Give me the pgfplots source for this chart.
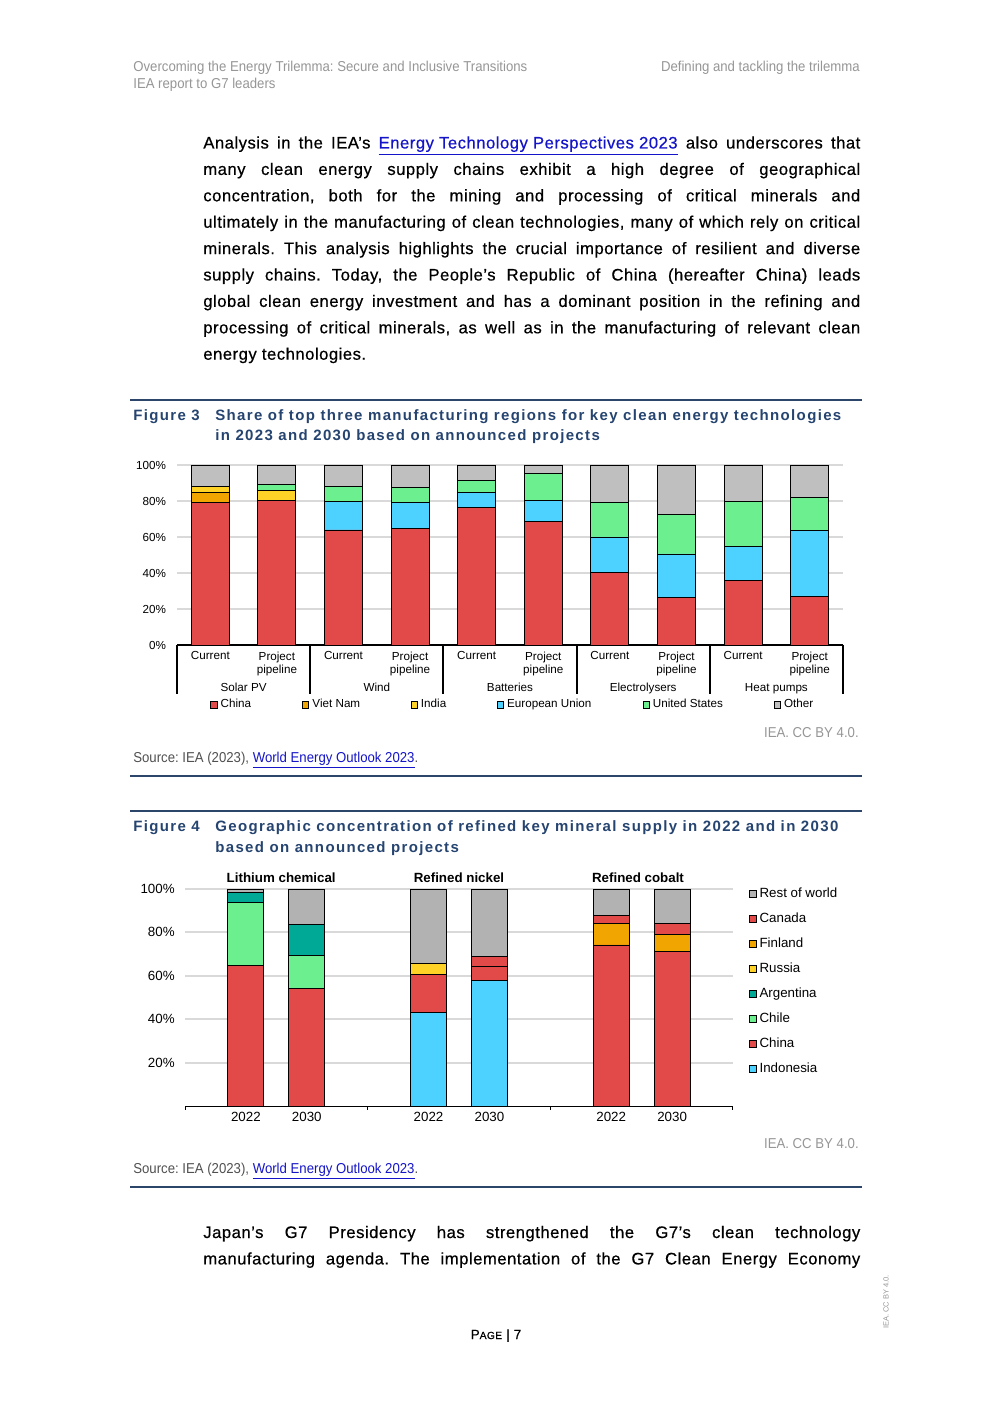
\documentclass[border=0pt]{standalone}
\usepackage{fontspec}
\setmainfont{Liberation Sans}
\newfontfamily\bodyfont[LetterSpace=3,FakeBold=0.5]{Liberation Sans}
\newfontfamily\titlefont[LetterSpace=9]{Liberation Sans}
\newfontfamily\narrowfont[FakeStretch=0.92]{Liberation Sans}
\usepackage{pgfplots}
\pgfplotsset{compat=1.18}
\usepackage{pgfplotstable}
\frenchspacing

\definecolor{cnred}{RGB}{226,74,74}
\definecolor{vnorange}{RGB}{240,165,0}
\definecolor{inyellow}{RGB}{255,210,40}
\definecolor{eucyan}{RGB}{77,210,255}
\definecolor{usgreen}{RGB}{108,240,143}
\definecolor{othgray}{RGB}{191,191,191}
\definecolor{rowgray}{RGB}{178,178,178}
\definecolor{argteal}{RGB}{0,168,150}
\definecolor{gridgray}{RGB}{217,217,217}
\definecolor{ieablue}{RGB}{38,68,112}
\definecolor{rulecol}{RGB}{44,70,105}
\definecolor{linkblue}{RGB}{20,20,200}
\definecolor{hdrgray}{RGB}{150,150,150}
\definecolor{srcgray}{RGB}{80,80,80}

% figure 3: share of top manufacturing regions (%)
\pgfplotstableread{
x China VietNam India EU US Other
0 79.0 5.6 3.3 0 0 12.1
1 80.1 0 5.6 0 3.3 11.0
2 63.9 0 0 15.7 8.3 12.1
3 64.5 0 0 14.5 8.4 12.6
4 76.2 0 0 8.4 6.7 8.7
5 68.4 0 0 11.7 15.1 4.8
6 40.5 0 0 19.5 19.0 21.0
7 26.6 0 0 24.0 21.7 27.7
8 36.1 0 0 18.4 25.1 20.4
9 27.1 0 0 36.3 18.4 18.2
}\techtable

% figure 4: refined mineral supply (%)
\pgfplotstableread{
x Indonesia China Chile Argentina Russia Finland Canada Rest
1 0 64.9 29.1 4.6 0 0 0 1.4
2 0 54.3 15.2 14.3 0 0 0 16.2
4 43.2 17.6 0 0 5.0 0 0 34.2
5 58.0 6.5 0 0 0 0 4.6 30.9
7 0 74.2 0 0 0 10.1 3.7 12.0
8 0 71.4 0 0 0 7.7 5.2 15.7
}\mineraltable

\newcommand\bodyline[2]{\node[anchor=base west, inner sep=0pt] at (203,#1) {\makebox[394.2pt][s]{#2}};}
\newcommand\figsev{\fontsize{7}{8.1}\selectfont}
\newcommand\figeig{\fontsize{8}{9}\selectfont}

\begin{document}
\begin{tikzpicture}
\begin{scope}[x=0.6pt,y=-0.6pt]
\path[fill=white] (0,0) rectangle (992,1403);

% running header
\begin{scope}[every node/.style={inner sep=0pt, text=hdrgray, font=\narrowfont\fontsize{8.6}{10}\selectfont}]
\node[anchor=base west] at (133,72) {Overcoming the Energy Trilemma: Secure and Inclusive Transitions};
\node[anchor=base west] at (133,89) {IEA report to G7 leaders};
\node[anchor=base east] at (860,72) {Defining and tackling the trilemma};
\end{scope}

% body paragraph
\begin{scope}[font=\bodyfont\fontsize{10}{11}\selectfont]
\bodyline{148.5}{Analysis in the IEA’s \textcolor{linkblue}{\underline{Energy Technology Perspectives 2023}} also underscores that}
\bodyline{174.9}{many clean energy supply chains exhibit a high degree of geographical}
\bodyline{201.3}{concentration, both for the mining and processing of critical minerals and}
\bodyline{227.7}{ultimately in the manufacturing of clean technologies, many of which rely on critical}
\bodyline{254.1}{minerals. This analysis highlights the crucial importance of resilient and diverse}
\bodyline{280.5}{supply chains. Today, the People’s Republic of China (hereafter China) leads}
\bodyline{306.9}{global clean energy investment and has a dominant position in the refining and}
\bodyline{333.3}{processing of critical minerals, as well as in the manufacturing of relevant clean}
\node[anchor=base west, inner sep=0pt] at (203,359.7) {energy technologies.};
\bodyline{1238}{Japan’s G7 Presidency has strengthened the G7’s clean technology}
\bodyline{1264.4}{manufacturing agenda. The implementation of the G7 Clean Energy Economy}
\end{scope}

% rules
\draw[rulecol, line width=1.2pt] (130,400) -- (862,400);
\draw[rulecol, line width=1.2pt] (130,776) -- (862,776);
\draw[rulecol, line width=1.2pt] (130,811) -- (862,811);
\draw[rulecol, line width=1.2pt] (130,1187) -- (862,1187);

% figure titles
\begin{scope}[every node/.style={anchor=base west, inner sep=0pt, text=ieablue, font=\titlefont\bfseries\fontsize{9}{11}\selectfont}]
\node at (133,420.5) {Figure 3};
\node at (215,420.5) {Share of top three manufacturing regions for key clean energy technologies};
\node at (215,440.5) {in 2023 and 2030 based on announced projects};
\node at (133,831) {Figure 4};
\node at (215,831) {Geographic concentration of refined key mineral supply in 2022 and in 2030};
\node at (215,852) {based on announced projects};
\end{scope}

% sources and credits
\begin{scope}[every node/.style={inner sep=0pt, font=\narrowfont\fontsize{8.6}{10}\selectfont}]
\node[anchor=base east, text=hdrgray] at (859,737) {IEA. CC BY 4.0.};
\node[anchor=base west, text=srcgray] at (133,762) {Source: IEA (2023), \textcolor{linkblue}{\underline{World Energy Outlook 2023}}.};
\node[anchor=base east, text=hdrgray] at (859,1148) {IEA. CC BY 4.0.};
\node[anchor=base west, text=srcgray] at (133,1173) {Source: IEA (2023), \textcolor{linkblue}{\underline{World Energy Outlook 2023}}.};
\end{scope}

% footer
\node[anchor=base, inner sep=0pt, font=\bodyfont\fontsize{8}{10}\selectfont] at (496,1339) {P{\fontsize{6.2}{8}\selectfont AGE} | 7};
\node[rotate=90, inner sep=0pt, text=hdrgray, font=\fontsize{4.5}{5}\selectfont] at (886,1302) {IEA. CC BY 4.0.};
\end{scope}

% ---------------- Figure 3 ----------------
\begin{axis}[
  at={(106.2pt,-387pt)}, anchor=south west,
  scale only axis, width=399.6pt, height=108pt,
  ybar stacked, bar width=22.8pt,
  xmin=-0.5, xmax=9.5, ymin=0, ymax=100,
  xtick={0,1,2,3,4,5,6,7,8,9},
  xticklabels={Current,{Project\\pipeline},Current,{Project\\pipeline},Current,{Project\\pipeline},Current,{Project\\pipeline},Current,{Project\\pipeline}},
  ytick={0,20,40,60,80,100},
  yticklabels={0\%,20\%,40\%,60\%,80\%,100\%},
  major tick length=0pt,
  axis line style={draw=none},
  ymajorgrids, grid style={gridgray, line width=1.2pt},
  tick label style={font=\figsev},
  xticklabel style={align=center, yshift=-0.4pt},
  yticklabel style={xshift=-3.1pt},
  clip=false,
  legend image code/.code={\draw[#1,/tikz/.cd,line width=0.4pt] (0pt,-1.9pt) rectangle (3.8pt,1.9pt);},
  legend columns=6,
  legend style={draw=none, fill=none, at={(0.0495,-0.333)}, anchor=west, inner sep=0pt,
    font=\figsev, column sep=0pt},
]
\addplot[fill=cnred, draw=black, line width=0.5pt] table[x=x, y=China] {\techtable};
\addlegendentry{\makebox[46.9pt][l]{China}}
\addplot[fill=vnorange, draw=black, line width=0.5pt] table[x=x, y=VietNam] {\techtable};
\addlegendentry{\makebox[56.9pt][l]{Viet Nam}}
\addplot[fill=inyellow, draw=black, line width=0.5pt] table[x=x, y=India] {\techtable};
\addlegendentry{\makebox[43.5pt][l]{India}}
\addplot[fill=eucyan, draw=black, line width=0.5pt] table[x=x, y=EU] {\techtable};
\addlegendentry{\makebox[79.3pt][l]{European Union}}
\addplot[fill=usgreen, draw=black, line width=0.5pt] table[x=x, y=US] {\techtable};
\addlegendentry{\makebox[70.5pt][l]{United States}}
\addplot[fill=othgray, draw=black, line width=0.5pt] table[x=x, y=Other] {\techtable};
\addlegendentry{Other}
\draw[black, line width=1.5pt] (rel axis cs:0,0) -- (rel axis cs:1,0);
\draw[black, line width=1.2pt] (axis cs:-0.5,0) -- ++(0pt,-29.4pt);
\draw[black, line width=1.2pt] (axis cs:1.5,0) -- ++(0pt,-29.4pt);
\draw[black, line width=1.2pt] (axis cs:3.5,0) -- ++(0pt,-29.4pt);
\draw[black, line width=1.2pt] (axis cs:5.5,0) -- ++(0pt,-29.4pt);
\draw[black, line width=1.2pt] (axis cs:7.5,0) -- ++(0pt,-29.4pt);
\draw[black, line width=1.2pt] (axis cs:9.5,0) -- ++(0pt,-29.4pt);
\node[anchor=base, inner sep=0pt, font=\figsev, yshift=-28pt] at (axis cs:0.5,0) {Solar PV};
\node[anchor=base, inner sep=0pt, font=\figsev, yshift=-28pt] at (axis cs:2.5,0) {Wind};
\node[anchor=base, inner sep=0pt, font=\figsev, yshift=-28pt] at (axis cs:4.5,0) {Batteries};
\node[anchor=base, inner sep=0pt, font=\figsev, yshift=-28pt] at (axis cs:6.5,0) {Electrolysers};
\node[anchor=base, inner sep=0pt, font=\figsev, yshift=-28pt] at (axis cs:8.5,0) {Heat pumps};
\end{axis}

% ---------------- Figure 4 ----------------
\begin{axis}[
  at={(111pt,-663.6pt)}, anchor=south west,
  scale only axis, width=328.8pt, height=130.2pt,
  ybar stacked, bar width=21.6pt,
  xmin=0, xmax=9, ymin=0, ymax=100,
  xtick={1,2,4,5,7,8},
  xticklabels={2022,2030,2022,2030,2022,2030},
  ytick={20,40,60,80,100},
  yticklabels={20\%,40\%,60\%,80\%,100\%},
  major tick length=0pt,
  axis line style={draw=none},
  ymajorgrids, grid style={gridgray, line width=1.2pt},
  tick label style={font=\figeig},
  yticklabel style={xshift=-2.7pt},
  clip=false,
  legend image code/.code={\draw[#1,/tikz/.cd,line width=0.4pt] (0pt,-1.9pt) rectangle (3.8pt,1.9pt);},
  reverse legend,
  legend cell align=left,
  legend style={draw=none, fill=none, at={(1.029,1.023)}, anchor=north west, inner sep=0pt,
    font=\figeig, row sep=3.7pt},
]
\addplot[fill=eucyan, draw=black, line width=0.5pt] table[x=x, y=Indonesia] {\mineraltable};
\addlegendentry{Indonesia}
\addplot[fill=cnred, draw=black, line width=0.5pt] table[x=x, y=China] {\mineraltable};
\addlegendentry{China}
\addplot[fill=usgreen, draw=black, line width=0.5pt] table[x=x, y=Chile] {\mineraltable};
\addlegendentry{Chile}
\addplot[fill=argteal, draw=black, line width=0.5pt] table[x=x, y=Argentina] {\mineraltable};
\addlegendentry{Argentina}
\addplot[fill=inyellow, draw=black, line width=0.5pt] table[x=x, y=Russia] {\mineraltable};
\addlegendentry{Russia}
\addplot[fill=vnorange, draw=black, line width=0.5pt] table[x=x, y=Finland] {\mineraltable};
\addlegendentry{Finland}
\addplot[fill=cnred, draw=black, line width=0.5pt] table[x=x, y=Canada] {\mineraltable};
\addlegendentry{Canada}
\addplot[fill=rowgray, draw=black, line width=0.5pt] table[x=x, y=Rest] {\mineraltable};
\addlegendentry{Rest of world}
\draw[black, line width=0.6pt] (rel axis cs:0,0) -- (rel axis cs:1,0);
\draw[black, line width=0.6pt] (axis cs:0,0) -- ++(0pt,-2.4pt);
\draw[black, line width=0.6pt] (axis cs:3,0) -- ++(0pt,-2.4pt);
\draw[black, line width=0.6pt] (axis cs:6,0) -- ++(0pt,-2.4pt);
\draw[black, line width=0.6pt] (axis cs:9,0) -- ++(0pt,-2.4pt);
\node[anchor=base, inner sep=0pt, font=\bfseries\figeig, yshift=3.9pt] at (axis cs:1.58,100) {Lithium chemical};
\node[anchor=base, inner sep=0pt, font=\bfseries\figeig, yshift=3.9pt] at (axis cs:4.5,100) {Refined nickel};
\node[anchor=base, inner sep=0pt, font=\bfseries\figeig, yshift=3.9pt] at (axis cs:7.44,100) {Refined cobalt};
\end{axis}
\end{tikzpicture}
\end{document}
